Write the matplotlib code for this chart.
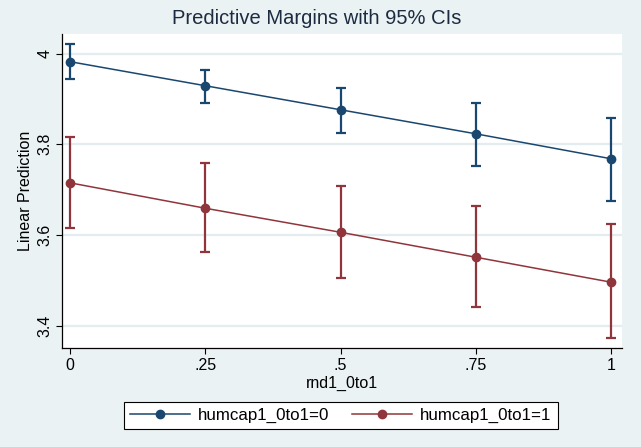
import matplotlib
matplotlib.use("Agg")
import matplotlib.pyplot as plt
import numpy as np

x_vals = [0, 0.25, 0.5, 0.75, 1]
x_labels = ["0", ".25", ".5", ".75", "1"]

series_names = ["humcap1_0to1=0", "humcap1_0to1=1"]
blue_mean = [3.982, 3.929, 3.876, 3.823, 3.768]
blue_lo = [3.943, 3.891, 3.825, 3.752, 3.675]
blue_hi = [4.020, 3.964, 3.924, 3.891, 3.858]
red_mean = [3.715, 3.659, 3.606, 3.551, 3.496]
red_lo = [3.616, 3.562, 3.505, 3.441, 3.373]
red_hi = [3.815, 3.758, 3.707, 3.663, 3.624]

y_ticks = [3.4, 3.6, 3.8, 4.0]
y_tick_labels = ["3.4", "3.6", "3.8", "4"]

plt.rcParams['font.family'] = ['Liberation Sans', 'DejaVu Sans']

bg = '#eaf2f3'
navy = '#1a476f'
maroon = '#90353b'

fig = plt.figure(figsize=(6.41, 4.47), dpi=100, facecolor=bg)
ax = fig.add_axes([62/641, 1-348/447, (622-62)/641, (348-34)/447])
ax.set_facecolor('white')

for mean, lo, hi, col, name in [(blue_mean, blue_lo, blue_hi, navy, series_names[0]),
                                (red_mean, red_lo, red_hi, maroon, series_names[1])]:
    mean = np.array(mean); lo = np.array(lo); hi = np.array(hi)
    ax.errorbar(x_vals, mean, yerr=[mean - lo, hi - mean], fmt='none',
                ecolor=col, elinewidth=1.6, capsize=3.3, capthick=1.6, zorder=3)
    ax.plot(x_vals, mean, color=col, lw=1.1, marker='o', markersize=6,
            label=name, zorder=4)

ax.set_xlim(-0.0148, 1.020)
ax.set_ylim(3.351, 4.043)
ax.set_yticks(y_ticks)
ax.set_yticklabels(y_tick_labels, rotation=90, va='center')
ax.set_xticks(x_vals)
ax.set_xticklabels(x_labels)
ax.tick_params(axis='both', labelsize=11.5, direction='out', length=4, width=0.8,
               colors='black', pad=3)
ax.grid(axis='y', color='#e3ecee', lw=1.6)
ax.set_axisbelow(True)
for s in ['top', 'right']:
    ax.spines[s].set_visible(False)
for s in ['left', 'bottom']:
    ax.spines[s].set_color('black')
    ax.spines[s].set_linewidth(0.9)

ax.set_xlabel("rnd1_0to1", fontsize=11.5, labelpad=2)
ax.set_ylabel("Linear Prediction", fontsize=11.5, labelpad=3)
fig.text(317/641, 1-18/447, "Predictive Margins with 95% CIs", ha='center', va='center',
         fontsize=14.5, color='#1c2b40')

leg = fig.legend(loc='center', bbox_to_anchor=(341/641, 1-415.5/447), ncol=2, fontsize=12.2,
                 frameon=True, fancybox=False, edgecolor='black', facecolor='white',
                 handlelength=3.5, handletextpad=0.5, columnspacing=1.35, borderpad=0.35,
                 framealpha=1)
leg.get_frame().set_linewidth(0.8)

fig.savefig("out.png", dpi=100, facecolor=bg)
